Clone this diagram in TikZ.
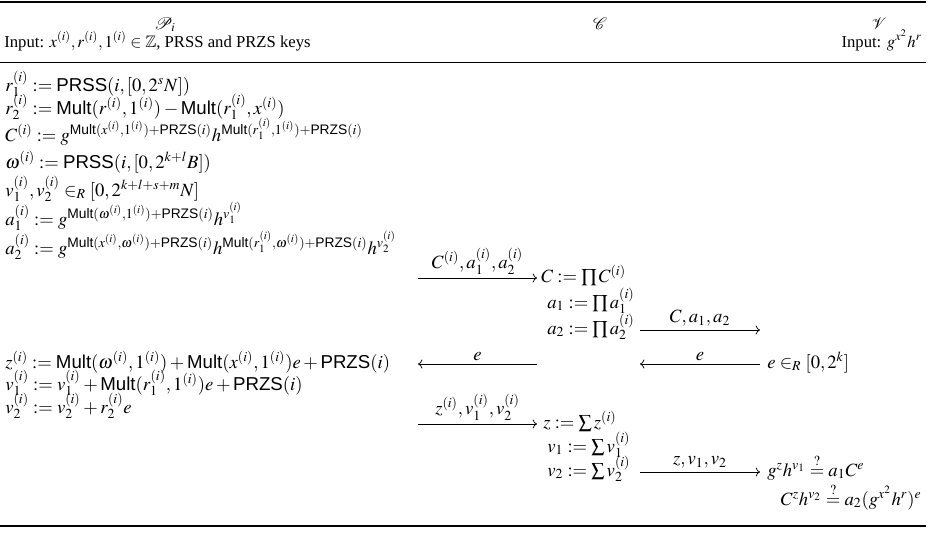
\documentclass[tikz,border=0pt]{standalone}
\usepackage{amsmath,amssymb}
\usepackage{mathptmx}
\usepackage{fontspec}
\setmainfont{Liberation Serif}
\setsansfont{Liberation Sans}
\usetikzlibrary{positioning,arrows.meta}

\newcommand{\fn}[1]{\textsf{#1}}

\begin{document}
\begin{tikzpicture}[
    x=0.6pt, y=-0.6pt,
    lhs/.style={anchor=base west, inner sep=0pt, font=\fontsize{11.2}{13}\selectfont},
    rhs/.style={anchor=base east, inner sep=0pt, font=\fontsize{11.2}{13}\selectfont},
    hdr/.style={anchor=base, inner sep=0pt},
    inp/.style={inner sep=0pt, font=\fontsize{10}{12}\selectfont},
    msg/.style={->, line width=0.45pt},
    lbl/.style={above, inner sep=2pt, font=\fontsize{11.2}{13}\selectfont},
]
\useasboundingbox (0,0) rectangle (929,533);

% Rules
\draw[line width=1.5pt] (0,2) -- (926,2);
\draw[line width=1.1pt] (0,62.5) -- (926,62.5);
\draw[line width=1.5pt] (0,526) -- (926,526);

% Header
\node[hdr] (prover) at (165,29) {$\mathcal{P}_i$};
\node[hdr] (coll) at (600,29) {$\mathcal{C}$};
\node[hdr] (verif) at (879,29) {$\mathcal{V}$};
\node[inp, anchor=base west] (pin) at (4,47) {Input: $x^{(i)},r^{(i)},1^{(i)}\in\mathbb{Z}$, PRSS and PRZS keys};
\node[inp, anchor=base east] (vin) at (922,47) {Input: $g^{x^2}h^r$};

% Party P_i
\node[lhs] (r1) at (5,91) {$r_1^{(i)} := \fn{PRSS}(i,[0,2^sN])$};
\node[lhs] (r2) at (5,114) {$r_2^{(i)} := \fn{Mult}(r^{(i)},1^{(i)})-\fn{Mult}(r_1^{(i)},x^{(i)})$};
\node[lhs] (ci) at (5,141) {$C^{(i)} := g^{\fn{Mult}(x^{(i)},1^{(i)})+\fn{PRZS}(i)}h^{\fn{Mult}(r_1^{(i)},1^{(i)})+\fn{PRZS}(i)}$};
\node[lhs] (om) at (5,168) {$\omega^{(i)} := \fn{PRSS}(i,[0,2^{k+l}B])$};
\node[lhs] (vv) at (5,196) {$v_1^{(i)},v_2^{(i)}\in_R[0,2^{k+l+s+m}N]$};
\node[lhs] (a1i) at (5,225) {$a_1^{(i)} := g^{\fn{Mult}(\omega^{(i)},1^{(i)})+\fn{PRZS}(i)}h^{v_1^{(i)}}$};
\node[lhs] (a2i) at (5,254) {$a_2^{(i)} := g^{\fn{Mult}(x^{(i)},\omega^{(i)})+\fn{PRZS}(i)}h^{\fn{Mult}(r_1^{(i)},\omega^{(i)})+\fn{PRZS}(i)}h^{v_2^{(i)}}$};
\node[lhs] (zi) at (5,368) {$z^{(i)} := \fn{Mult}(\omega^{(i)},1^{(i)})+\fn{Mult}(x^{(i)},1^{(i)})e+\fn{PRZS}(i)$};
\node[lhs] (v1i) at (5,390) {$v_1^{(i)} := v_1^{(i)}+\fn{Mult}(r_1^{(i)},1^{(i)})e+\fn{PRZS}(i)$};
\node[lhs] (v2i) at (5,413) {$v_2^{(i)} := v_2^{(i)}+r_2^{(i)}e$};

% Collector
\node[lhs] (cc) at (541,282) {$C := \prod C^{(i)}$};
\node[lhs] (ca1) at (547,308) {$a_1 := \prod a_1^{(i)}$};
\node[lhs] (ca2) at (547,334) {$a_2 := \prod a_2^{(i)}$};
\node[lhs] (cz) at (543,428) {$z := \sum z^{(i)}$};
\node[lhs] (cv1) at (547,452) {$v_1 := \sum v_1^{(i)}$};
\node[lhs] (cv2) at (547,476) {$v_2 := \sum v_2^{(i)}$};

% Verifier
\node[lhs] (ve) at (767,368) {$e\in_R[0,2^k]$};
\node[lhs] (chk1) at (767,476) {$g^zh^{v_1}\stackrel{?}{=}a_1C^e$};
\node[rhs] (chk2) at (922,505) {$C^zh^{v_2}\stackrel{?}{=}a_2(g^{x^2}h^r)^e$};

% Arrow ends
\coordinate (m1a) at (418,278); \coordinate (m1b) at (537,278);
\coordinate (m2a) at (640,330); \coordinate (m2b) at (760,330);
\coordinate (m3a) at (760,364); \coordinate (m3b) at (640,364);
\coordinate (m4a) at (537,364); \coordinate (m4b) at (418,364);
\coordinate (m5a) at (418,424); \coordinate (m5b) at (537,424);
\coordinate (m6a) at (640,472); \coordinate (m6b) at (760,472);

% Messages
\draw[msg] (m1a) -- node[lbl] (l1) {$C^{(i)},a_1^{(i)},a_2^{(i)}$} (m1b);
\draw[msg] (m2a) -- node[lbl] (l2) {$C,a_1,a_2$} (m2b);
\draw[msg] (m3a) -- node[lbl] (l3) {$e$} (m3b);
\draw[msg] (m4a) -- node[lbl] (l4) {$e$} (m4b);
\draw[msg] (m5a) -- node[lbl] (l5) {$z^{(i)},v_1^{(i)},v_2^{(i)}$} (m5b);
\draw[msg] (m6a) -- node[lbl] (l6) {$z,v_1,v_2$} (m6b);

\end{tikzpicture}
\end{document}
